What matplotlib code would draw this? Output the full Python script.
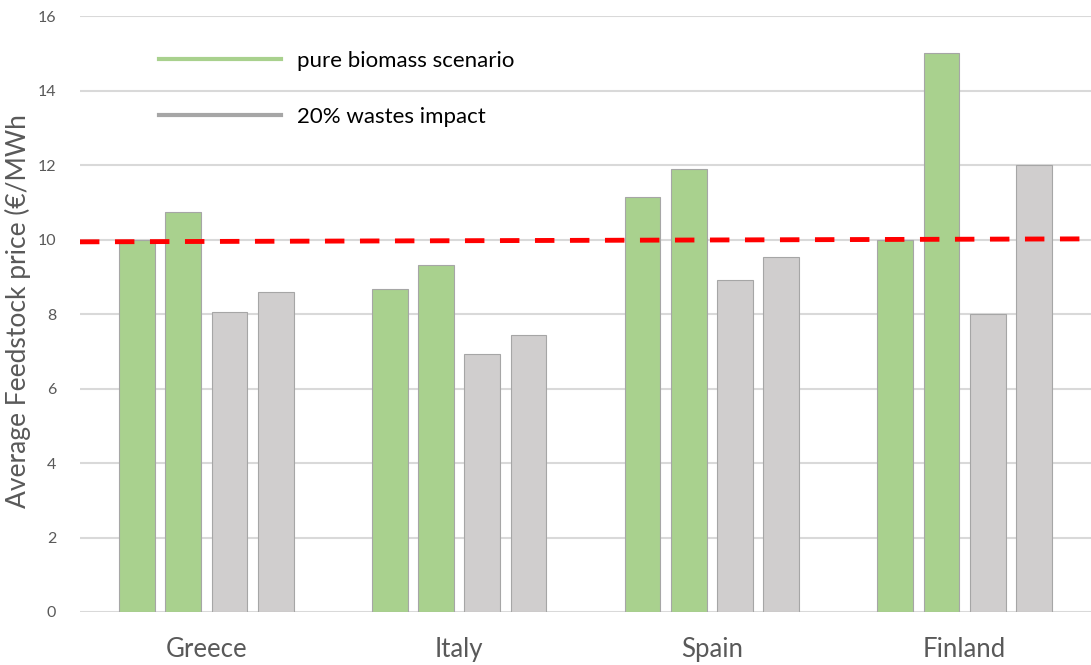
import numpy as np
import matplotlib
matplotlib.use("Agg")
import matplotlib.pyplot as plt
from matplotlib.lines import Line2D

plt.rcParams['font.family'] = ['Lato', 'DejaVu Sans']

countries = ["Greece", "Italy", "Spain", "Finland"]
# two bars per scenario in each country
biomass_a = [10.0, 8.67, 11.15, 10.0]
biomass_b = [10.75, 9.32, 11.9, 15.0]
wastes_a = [8.05, 6.93, 8.92, 8.0]
wastes_b = [8.6, 7.44, 9.53, 12.0]
ref_line = [9.94, 10.02]   # red dashed line, left and right end
y_ticks = [0, 2, 4, 6, 8, 10, 12, 14, 16]

green = "#A9D18E"
grey = "#D0CECE"
txt = "#595959"

fig = plt.figure(figsize=(10.91, 6.65), dpi=100)
ax = fig.add_axes([0.0733, 0.0797, 0.9267, 0.896])

x = np.arange(len(countries))
w = 0.142
step = 0.183
series = [(biomass_a, green), (biomass_b, green), (wastes_a, grey), (wastes_b, grey)]
for i, (vals, col) in enumerate(series):
    ax.bar(x + (i - 1.5) * step, vals, width=w, color=col,
           edgecolor="#A6A6A6", linewidth=0.8, zorder=2)

ax.plot([-0.5, 3.5], ref_line, color="red", linestyle=(0, (4, 3.2)),
        linewidth=3.5, zorder=3)

ax.set_xlim(-0.5, 3.5)
ax.set_ylim(0, 16)
ax.set_yticks(y_ticks)
ax.set_yticklabels([str(t) for t in y_ticks], fontsize=11.5, color=txt)
ax.set_xticks(x)
ax.set_xticklabels(countries, fontsize=18.5, color=txt)
ax.tick_params(axis="y", length=0, pad=17)
ax.tick_params(axis="x", length=0, pad=18)
ax.grid(axis="y", color="#D9D9D9", linewidth=1.5, zorder=0)
ax.set_axisbelow(True)
for s in ax.spines.values():
    s.set_visible(False)

ax.set_ylabel("Average Feedstock price (€/MWh", fontsize=19, color=txt)
ax.yaxis.set_label_coords(-0.048, 0.505)

handles = [Line2D([], [], color=green, linewidth=3),
           Line2D([], [], color="#A6A6A6", linewidth=3)]
ax.legend(handles, ["pure biomass scenario", "20% wastes impact"],
          loc="upper left", bbox_to_anchor=(0.058, 0.975), frameon=False,
          fontsize=16, handlelength=5.5, handletextpad=0.72, labelspacing=1.6)

fig.savefig("out.png", dpi=100)
